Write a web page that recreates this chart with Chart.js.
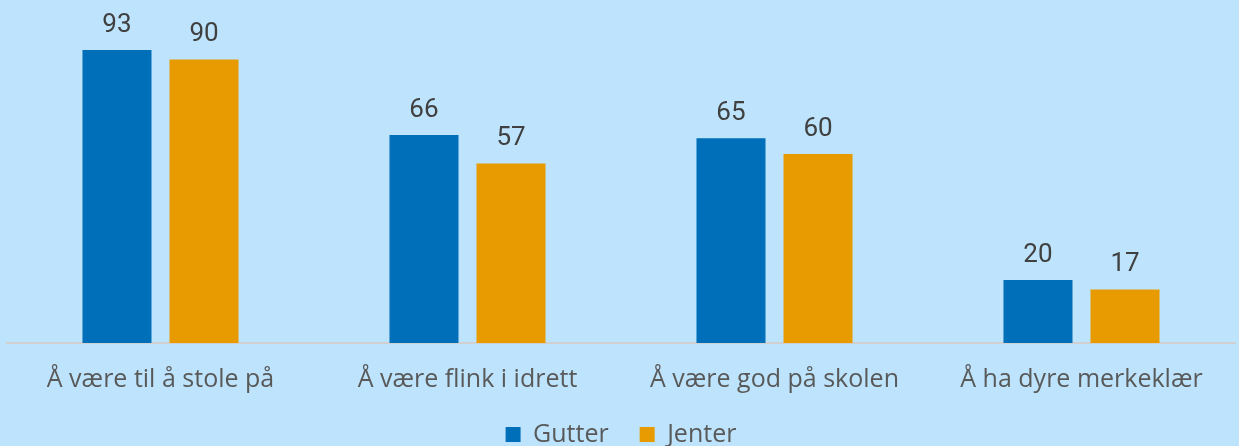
<!DOCTYPE html>
<html>
<head>
<meta charset="utf-8">
<script src="https://cdn.jsdelivr.net/npm/chart.js@4/dist/chart.umd.min.js"></script>
<style>
  html, body { margin: 0; padding: 0; background: #bde4fc; }
  #wrap { width: 1239px; height: 446px; }
</style>
</head>
<body>
<div id="wrap"><canvas id="c" width="1239" height="446"></canvas></div>
<script>
// kategorier og verdier
const categories = ['Å være til å stole på', 'Å være flink i idrett', 'Å være god på skolen', 'Å ha dyre merkeklær'];
const gutter = [93, 66, 65, 20];
const jenter = [90, 57, 60, 17];

// skriver verdien over hver søyle
const valueLabels = {
  id: 'valueLabels',
  afterDatasetsDraw(chart) {
    const ctx = chart.ctx;
    ctx.save();
    ctx.font = '26px Roboto';
    ctx.fillStyle = '#404040';
    ctx.textAlign = 'center';
    ctx.textBaseline = 'middle';
    chart.data.datasets.forEach((ds, i) => {
      chart.getDatasetMeta(i).data.forEach((bar, j) => {
        ctx.fillText(ds.data[j], bar.x, bar.y - 25);
      });
    });
    ctx.restore();
  }
};

new Chart(document.getElementById('c'), {
  type: 'bar',
  data: {
    labels: categories,
    datasets: [
      { label: 'Gutter', data: gutter, backgroundColor: '#006fba' },
      { label: 'Jenter', data: jenter, backgroundColor: '#e89b00' }
    ]
  },
  options: {
    responsive: false,
    animation: false,
    layout: { padding: { top: 28, left: 7, right: 4, bottom: -11 } },
    datasets: { bar: { barPercentage: 0.793, categoryPercentage: 0.567 } },
    plugins: {
      legend: {
        position: 'bottom',
        labels: {
          font: { family: 'Open Sans', size: 25 },
          color: '#595959',
          boxWidth: 15,
          boxHeight: 15,
          padding: 5,
          // litt ekstra luft mellom de to forklaringene
          generateLabels(chart) {
            const items = Chart.defaults.plugins.legend.labels.generateLabels(chart);
            items[0].text = items[0].text + '    ';
            return items;
          }
        }
      },
      tooltip: { enabled: false }
    },
    scales: {
      x: {
        grid: { display: false, drawTicks: false },
        border: { color: '#d0d0d0', width: 2 },
        ticks: { font: { family: 'Open Sans', size: 25 }, color: '#595959', padding: 22 }
      },
      y: {
        display: false,
        min: 0,
        max: 100
      }
    }
  },
  plugins: [valueLabels]
});
</script>
</body>
</html>
